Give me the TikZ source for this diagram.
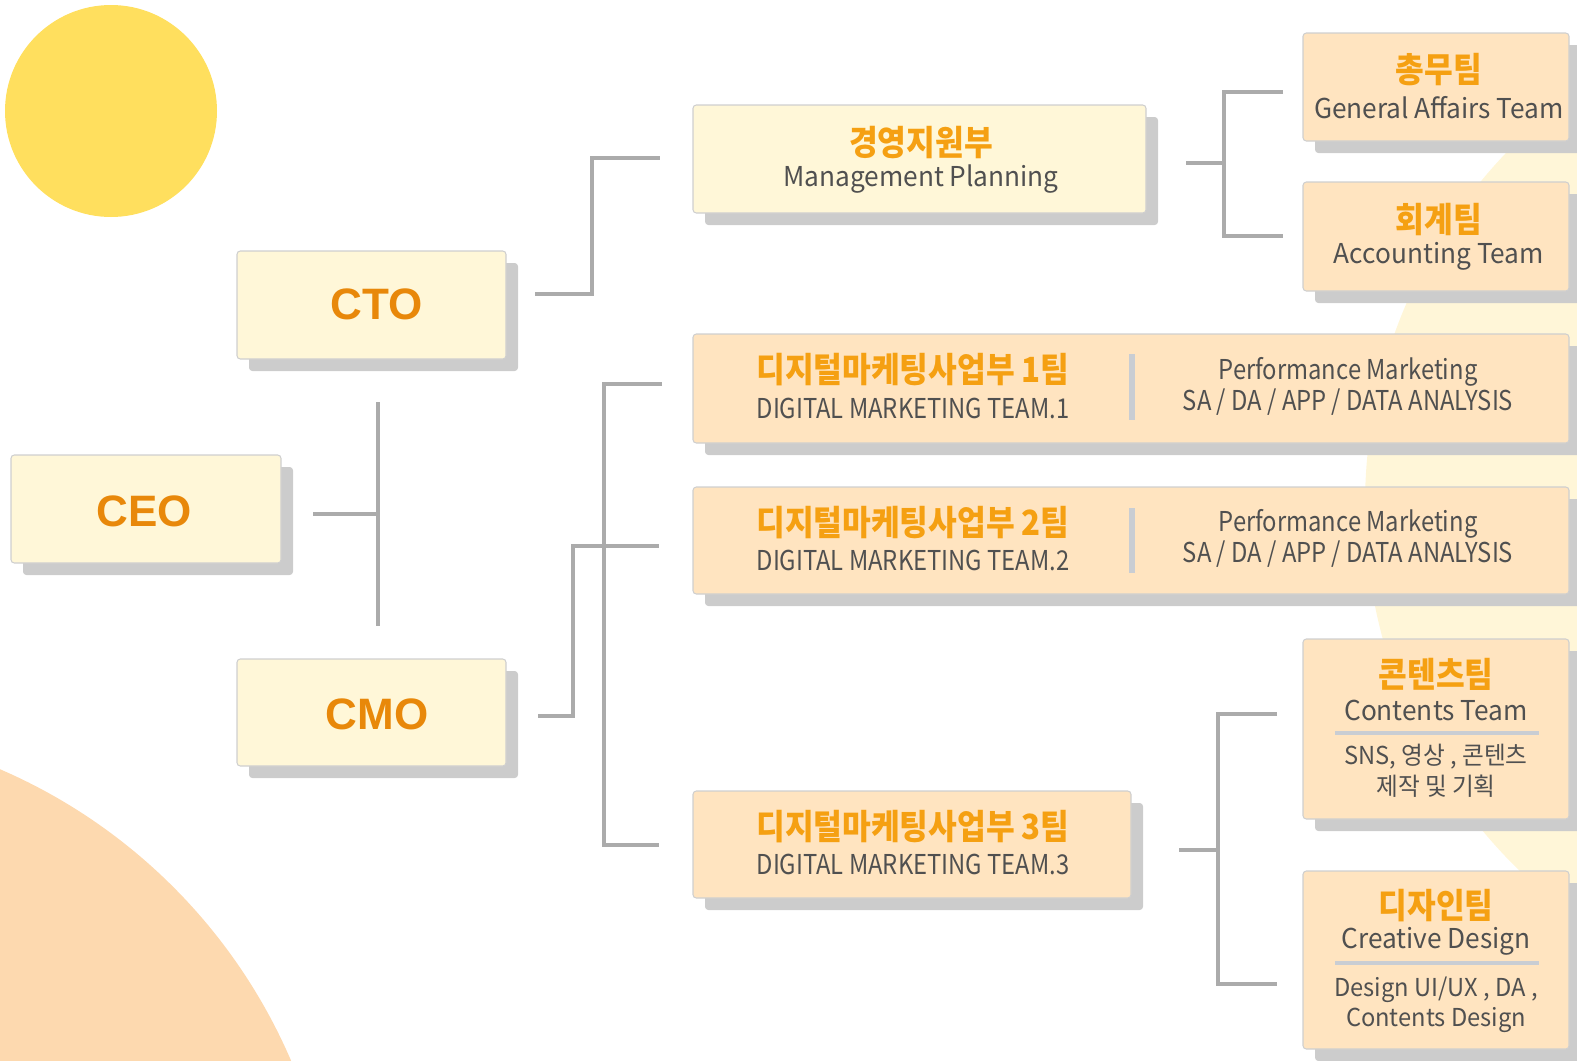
\documentclass[tikz,border=0pt]{standalone}
\usepackage{fontspec}
\setmainfont{Noto Sans CJK KR}[FakeStretch=0.96]
\newfontfamily\krhead{Noto Sans CJK KR}[FakeStretch=0.9]
\newfontfamily\narrowfont{Noto Sans CJK KR}[FakeStretch=0.87]
\newfontfamily\titlefont{Liberation Sans}
\usetikzlibrary{shadows,fit}

\definecolor{sunyellow}{HTML}{FFDF5E}
\definecolor{peachbg}{HTML}{FDD9AF}
\definecolor{creambg}{HTML}{FFF6D8}
\definecolor{paleyellow}{HTML}{FFF7D8}
\definecolor{peachbox}{HTML}{FFE4C0}
\definecolor{boxline}{HTML}{CFCFCF}
\definecolor{shadowgray}{HTML}{CCCCCC}
\definecolor{linegray}{HTML}{ABABAB}
\definecolor{sepgray}{HTML}{C9CDD3}
\definecolor{titleorange}{HTML}{E8880A}
\definecolor{headorange}{HTML}{F5A012}
\definecolor{textgray}{HTML}{505050}

\tikzset{every picture/.style={line width=0.75pt}}

\begin{document}
\begin{tikzpicture}[x=0.75pt,y=0.75pt,yscale=-1,xscale=1,
  card/.style={draw=boxline, line width=0.8pt, rounded corners=2.5pt, inner sep=0pt,
    drop shadow={shadow xshift=9pt, shadow yshift=-9pt, fill=shadowgray, opacity=1, draw=none}},
  pale/.style={card, fill=paleyellow},
  peach/.style={card, fill=peachbox},
  link/.style={draw=linegray, line width=2.6pt},
  sepline/.style={draw=sepgray, line width=3pt},
  ctitle/.style={font=\titlefont\bfseries\fontsize{33}{33}\selectfont, text=titleorange, inner sep=0pt},
  head/.style={font=\krhead\bfseries\fontsize{26}{26}\selectfont, text=headorange, inner sep=0pt},
  sub/.style={font=\fontsize{20.5}{20.5}\selectfont, text=textgray, inner sep=0pt},
  narrow/.style={font=\narrowfont\fontsize{20.5}{20.5}\selectfont, text=textgray, inner sep=0pt},
  note/.style={font=\fontsize{18.5}{18.5}\selectfont, text=textgray, inner sep=0pt}]
\useasboundingbox (0,0) rectangle (1577,1060);
\begin{scope}
\clip (0,0) rectangle (1577,1060);

%Shapes
\fill[sunyellow] (111,111) circle (106);
\fill[peachbg] (-220,1280) circle (556);
\fill[creambg] (1875,505) circle (510);

%Boxes
\node[pale, fit={(11,455) (281,563)}] (ceo) {};
\node[pale, fit={(237,251) (506,359)}] (cto) {};
\node[pale, fit={(237,659) (506,766)}] (cmo) {};
\node[pale, fit={(693,105) (1146,213)}] (mp) {};
\node[peach, fit={(1303,33) (1569,141)}] (ga) {};
\node[peach, fit={(1303,182) (1569,291)}] (ac) {};
\node[peach, fit={(693,334) (1569,443)}] (dma) {};
\node[peach, fit={(693,487) (1569,594)}] (dmb) {};
\node[peach, fit={(693,791) (1131,898)}] (dmc) {};
\node[peach, fit={(1303,639) (1569,819)}] (ct) {};
\node[peach, fit={(1303,871) (1569,1049)}] (de) {};

%Straight Lines
\coordinate (ceoout) at (313,514);
\coordinate (ctoin) at (378,402);
\coordinate (cmoin) at (378,626);
\draw[link] (ctoin) -- (cmoin);
\draw[link] (ceoout) -- (ceoout -| ctoin);
%Straight Lines
\coordinate (ctoout) at (535,294);
\coordinate (mpin) at (660,158);
\draw[link] (ctoout) -- ++(57,0) |- (mpin);
%Straight Lines
\coordinate (cmoout) at (538,716);
\coordinate (dmbin) at (659,546);
\draw[link] (cmoout) -- ++(35,0) |- (dmbin);
\coordinate (dmain) at (662,384);
\coordinate (dmcin) at (659,845);
\draw[link] (dmain) -- ++(-58,0) |- (dmcin);
%Straight Lines
\coordinate (mpout) at (1186,163);
\coordinate (gain) at (1283,92);
\coordinate (acin) at (1283,236);
\draw[link] (gain) -- ++(-59,0) |- (acin);
\draw[link] (mpout) -- ++(38,0);
%Straight Lines
\coordinate (dmcout) at (1179,850);
\coordinate (ctin) at (1277,714);
\coordinate (dein) at (1277,984);
\draw[link] (ctin) -- ++(-59,0) |- (dein);
\draw[link] (dmcout) -- ++(39,0);

%Separators
\draw[sepline, line width=4.5pt] (1132,354) -- (1132,420);
\draw[sepline, line width=4.5pt] (1132,508) -- (1132,573);
\draw[sepline] (1335,733) -- (1539,733);
\draw[sepline] (1335,963) -- (1539,963);

% Text Node
\node[ctitle] (ceolabel) at (144,511) {CEO};
\node[ctitle] (ctolabel) at (377,304) {CTO};
\node[ctitle] (cmolabel) at (377,714) {CMO};
% Text Node
\node[head] (mphead) at (921,143) {경영지원부};
\node[sub] (mpsub) at (921,179) {Management Planning};
\node[head] (gahead) at (1439,70) {총무팀};
\node[sub] (gasub) at (1439,108) {General Affairs Team};
\node[head] (achead) at (1439,220) {회계팀};
\node[sub] (acsub) at (1439,256) {Accounting Team};
% Text Node
\node[head] (dmahead) at (913,370) {디지털마케팅사업부 1팀};
\node[narrow] (dmasub) at (913,408) {DIGITAL MARKETING TEAM.1};
\node[narrow] (dmaperf) at (1348,372) {Performance Marketing};
\node[narrow] (dmawork) at (1348,402) {SA / DA / APP / DATA ANALYSIS};
\node[head] (dmbhead) at (913,523) {디지털마케팅사업부 2팀};
\node[narrow] (dmbsub) at (913,560) {DIGITAL MARKETING TEAM.2};
\node[narrow] (dmbperf) at (1348,524) {Performance Marketing};
\node[narrow] (dmbwork) at (1348,554) {SA / DA / APP / DATA ANALYSIS};
\node[head] (dmchead) at (913,827) {디지털마케팅사업부 3팀};
\node[narrow] (dmcsub) at (913,864) {DIGITAL MARKETING TEAM.3};
% Text Node
\node[head] (cthead) at (1436,674) {콘텐츠팀};
\node[sub] (ctsub) at (1436,710) {Contents Team};
\node[note] (ctworka) at (1436,757) {SNS, 영상 , 콘텐츠};
\node[note] (ctworkb) at (1436,786) {제작 및 기획};
\node[head] (dehead) at (1436,906) {디자인팀};
\node[sub] (desub) at (1436,941) {Creative Design};
\node[note] (deworka) at (1436,990) {Design UI/UX , DA ,};
\node[note] (deworkb) at (1436,1020) {Contents Design};

\end{scope}
\end{tikzpicture}
\end{document}
